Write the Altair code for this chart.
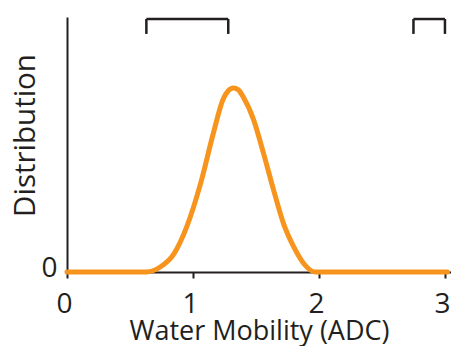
import altair as alt
import pandas as pd

# Curve (ADC units, distribution normalised to peak = 1)
adc = [0.0, 0.3, 0.63, 0.74, 0.85, 0.95, 1.06, 1.16, 1.24, 1.28, 1.32, 1.36, 1.40, 1.48,
       1.56, 1.64, 1.72, 1.80, 1.88, 1.97, 2.3, 2.7, 3.02]
density = [0.0, 0.0, 0.0, 0.027, 0.10, 0.245, 0.48, 0.75, 0.94, 0.985, 1.0, 0.99, 0.95, 0.83,
           0.645, 0.445, 0.26, 0.136, 0.045, 0.0, 0.0, 0.0, 0.0]

# Range brackets drawn above the plot
bracket_start = [0.63, 2.75]
bracket_end = [1.28, 3.0]

x_ticks = [0, 1, 2, 3]
y_ticks = [0]

curve = pd.DataFrame({"adc": adc, "density": density})
brackets = pd.DataFrame({"start": bracket_start, "end": bracket_end})

BR_TOP = 1.375
BR_BOT = 1.294
DARK = "#231F20"
ORANGE = "#F7941D"
FONT = "Open Sans"
FS = 28

x_scale = alt.Scale(domain=[0, 3.048], nice=False, zero=False)
y_scale = alt.Scale(domain=[0, 1.386], nice=False)

x_axis = alt.Axis(values=x_ticks, title="Water Mobility (ADC)", format="d",
                  tickSize=6, labelPadding=12, titlePadding=0, labelFlush=False,
                  labelOffset=-3,
                  labelFontSize=FS, titleFontSize=27, labelFont=FONT, titleFont=FONT)
y_axis = alt.Axis(values=y_ticks, title="Distribution", format="d",
                  tickSize=0, labelPadding=10, labelOffset=-4,
                  titleX=-27, titleY=118,
                  labelFontSize=FS, titleFontSize=29.5, labelFont=FONT, titleFont=FONT)

line = alt.Chart(curve).mark_line(
    color=ORANGE, strokeWidth=5, interpolate="monotone", strokeCap="round"
).encode(
    x=alt.X("adc:Q", scale=x_scale, axis=x_axis),
    y=alt.Y("density:Q", scale=y_scale, axis=y_axis),
)

top_rule = alt.Chart(brackets).mark_rule(color=DARK, strokeWidth=2.5).encode(
    x=alt.X("start:Q", scale=x_scale, axis=x_axis),
    x2="end:Q",
    y=alt.datum(BR_TOP),
)
left_rule = alt.Chart(brackets).mark_rule(color=DARK, strokeWidth=2.5).encode(
    x=alt.X("start:Q", scale=x_scale, axis=x_axis),
    y=alt.datum(BR_TOP),
    y2=alt.datum(BR_BOT),
)
right_rule = alt.Chart(brackets).mark_rule(color=DARK, strokeWidth=2.5).encode(
    x=alt.X("end:Q", scale=x_scale, axis=x_axis),
    y=alt.datum(BR_TOP),
    y2=alt.datum(BR_BOT),
)

chart = alt.layer(line, top_rule, left_rule, right_rule).properties(
    width=384, height=255,
    autosize=alt.AutoSizeParams(type="none"),
    padding={"left": 59, "top": 9, "right": 0, "bottom": 74},
).configure_view(stroke=None).configure_axis(
    domainColor=DARK, domainWidth=2, tickColor=DARK, tickWidth=2,
    labelColor=DARK, titleColor=DARK, titleFontWeight="normal", grid=False,
)

chart.save("out.html", embed_options={"renderer": "svg", "actions": False})
